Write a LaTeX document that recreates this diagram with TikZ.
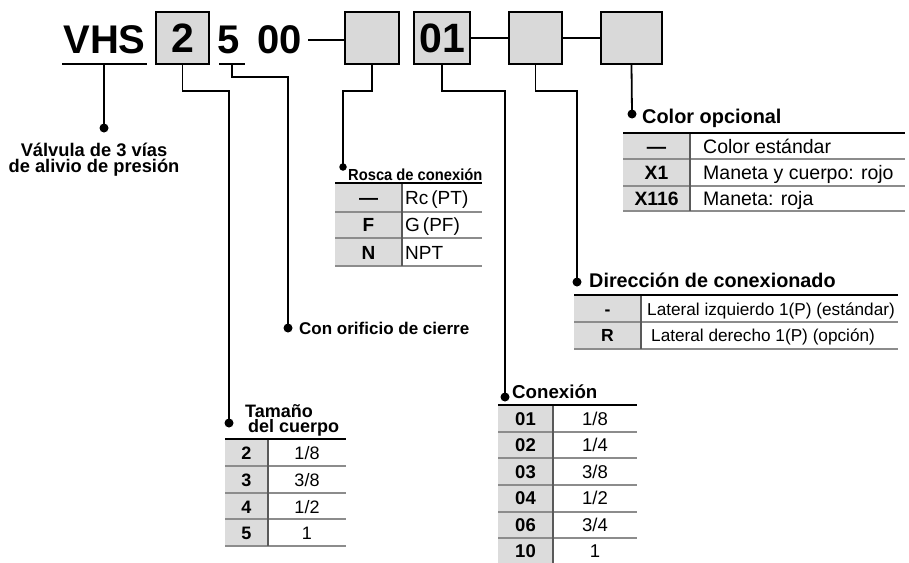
\documentclass[tikz,border=0pt]{standalone}
\usepackage{fontspec}
\usepackage{graphicx}
\setmainfont{Liberation Sans}
\newcommand\myfs[1]{\fontsize{#1}{#1}\selectfont}
\definecolor{boxgray}{HTML}{D9D9D9}
\definecolor{cellgray}{HTML}{DCDCDC}
\definecolor{rulegray}{HTML}{8C8C8C}
\begin{document}
\begin{tikzpicture}[x=1pt,y=-1pt,
  codebox/.style={draw,line width=2pt,fill=boxgray,minimum height=52pt,inner sep=0pt,font=\bfseries\myfs{41}},
  code/.style={anchor=base,inner sep=0pt,font=\bfseries\myfs{40}},
  conn/.style={line width=1.8pt},
  link/.style={line width=2.6pt},
  uline/.style={line width=1.8pt},
  dot/.style={circle,fill=black,inner sep=0pt,minimum size=9pt},
  sdot/.style={circle,fill=black,inner sep=0pt,minimum size=7.5pt},
  ttl/.style={anchor=base west,inner sep=0pt,font=\bfseries\myfs{#1}},
  toprule/.style={line width=2pt},
  rowrule/.style={line width=1.1pt,draw=rulegray},
  colrule/.style={line width=1.1pt,draw=black!65},
  ccode/.style={anchor=base,inner sep=0pt,font=\bfseries\myfs{#1}},
  ctext/.style={anchor=base west,inner sep=0pt,font=\myfs{#1}},
  cval/.style={anchor=base,inner sep=0pt,font=\myfs{#1}}
]
\useasboundingbox (0,0) rectangle (909,562);

% ---------- model code ----------
\node[code] (vhs) at (104.5,53) {VHS};
\node[codebox,minimum width=53pt] (b2) at (182.5,38) {2};
\node[code] (n5) at (229,53) {5};
\node[code,anchor=base west] (n00) at (257,53) {00};
\node[codebox,minimum width=54pt] (b3) at (372,38) {};
\node[codebox,minimum width=56pt] (b01) at (442,38) {01};
\node[codebox,minimum width=53pt] (b5) at (535.5,38) {};
\node[codebox,minimum width=61pt] (b6) at (631.5,38) {};

\coordinate (l00) at (308,40);
\draw[link] (l00) -- (l00 -| b3.west);
\draw[link] (b01.east) -- (b5.west);
\draw[link] (b5.east) -- (b6.west);

\coordinate (uV) at (104,64);
\draw[uline] (62,64) -- (147,64);
\coordinate (u5) at (232,64);
\draw[uline] (219,64) -- (245,64);

% ---------- dots ----------
\node[dot] (dV) at (104,128) {};
\node[dot] (dT) at (229,423) {};
\node[dot] (dC) at (288,328) {};
\node[sdot] (dR) at (343,167) {};
\node[dot] (dX) at (505,397) {};
\node[dot] (dD) at (577,282) {};
\node[dot] (dO) at (632,114) {};

% ---------- connectors ----------
\draw[conn] (uV) -- (dV.center);
\draw[conn] (b2.south) -- ++(0,26) -| (dT.center);
\draw[conn] (u5) -- ++(0,13) -| (dC.center);
\draw[conn] (b3.south) -- ++(0,26) -| (dR.center);
\draw[conn] (b01.south) -- ++(0,26) -| (dX.center);
\draw[conn] (b5.south) -- ++(0,26) -| (dD.center);
\draw[conn] (b6.south) -- (dO.center);

% ---------- titles ----------
\node[anchor=base,inner sep=0pt,align=center,font=\bfseries\myfs{18.3}] (tV) at (94,172.7)
  {V\'alvula de 3 v\'ias\\[-1.6pt]de alivio de presi\'on};
\node[anchor=base west,inner sep=0pt,align=left,font=\bfseries\myfs{18}] (tT) at (245,432.5)
  {Tama\~no\\[-3pt]\hspace*{3pt}del cuerpo};
\node[ttl=17] (tC) at (299,334) {Con orificio de cierre};
\node[ttl=16] (tR) at (348,180.7) {\scalebox{0.92}[1]{Rosca de conexi\'on}};
\node[ttl=18.7] (tX) at (512,398) {Conexi\'on};
\node[ttl=19.8] (tD) at (589,287) {Direcci\'on de conexionado};
\node[ttl=19.9] (tO) at (642,123.3) {Color opcional};

% ---------- table: Color opcional ----------
\fill[cellgray] (623,133) rectangle (690,211);
\draw[rowrule] (623,159) -- (905,159);
\draw[rowrule] (623,186) -- (905,186);
\draw[rowrule] (623,211) -- (905,211);
\draw[colrule] (690,133) -- (690,211);
\draw[toprule] (623,133) -- (905,133);
\node[ccode=19.3] (o1) at (656.5,153.5) {---};
\node[ccode=19.3] (o2) at (656.5,179.5) {X1};
\node[ccode=19.3] (o3) at (656.5,205.5) {X116};
\node[ctext=19.5] (o1t) at (703,153.5) {Color est\'andar};
\node[ctext=19.5] (o2t) at (703,179.5) {Maneta y cuerpo: rojo};
\node[ctext=19.5] (o3t) at (703,205.5) {Maneta: roja};

% ---------- table: Direccion ----------
\fill[cellgray] (574,295) rectangle (641,349);
\draw[rowrule] (574,322) -- (898,322);
\draw[rowrule] (574,349) -- (898,349);
\draw[colrule] (641,295) -- (641,349);
\draw[toprule] (574,295) -- (898,295);
\node[ccode=17.5] (d1) at (607.5,315) {-};
\node[ccode=17.5] (d2) at (607.5,341.7) {R};
\node[ctext=17.2] (d1t) at (647,315) {Lateral izquierdo 1(P) (est\'andar)};
\node[ctext=17.2] (d2t) at (651,341.7) {Lateral derecho 1(P) (opci\'on)};

% ---------- table: Rosca ----------
\fill[cellgray] (335,183) rectangle (402,266);
\draw[rowrule] (335,212) -- (482,212);
\draw[rowrule] (335,238) -- (482,238);
\draw[rowrule] (335,266) -- (482,266);
\draw[colrule] (402,183) -- (402,266);
\draw[toprule] (335,183) -- (482,183);
\node[ccode=19] (r1) at (368.5,204.5) {---};
\node[ccode=19] (r2) at (368.5,231.8) {F};
\node[ccode=19] (r3) at (368.5,259) {N};
\node[ctext=19] (r1t) at (405,204.5) {Rc\hspace{3pt}(PT)};
\node[ctext=19] (r2t) at (405,231.8) {G\hspace{3pt}(PF)};
\node[ctext=19] (r3t) at (405,259) {NPT};

% ---------- table: Tamano ----------
\fill[cellgray] (225,439) rectangle (268,546);
\draw[rowrule] (225,466) -- (346,466);
\draw[rowrule] (225,493) -- (346,493);
\draw[rowrule] (225,519) -- (346,519);
\draw[rowrule] (225,546) -- (346,546);
\draw[colrule] (268,439) -- (268,546);
\draw[toprule] (225,439) -- (346,439);
\node[ccode=18] (t1) at (246.5,459.5) {2};
\node[ccode=18] (t2) at (246.5,486.5) {3};
\node[ccode=18] (t3) at (246.5,513) {4};
\node[ccode=18] (t4) at (246.5,539.5) {5};
\node[cval=18] (t1v) at (307,459.5) {1/8};
\node[cval=18] (t2v) at (307,486.5) {3/8};
\node[cval=18] (t3v) at (307,513) {1/2};
\node[cval=18] (t4v) at (307,539.5) {1};

% ---------- table: Conexion ----------
\fill[cellgray] (498,405) rectangle (553,566);
\draw[rowrule] (498,432) -- (637,432);
\draw[rowrule] (498,458) -- (637,458);
\draw[rowrule] (498,485) -- (637,485);
\draw[rowrule] (498,512) -- (637,512);
\draw[rowrule] (498,538) -- (637,538);
\draw[colrule] (553,405) -- (553,566);
\draw[toprule] (498,405) -- (637,405);
\node[ccode=18.5] (x1) at (525.5,425) {01};
\node[ccode=18.5] (x2) at (525.5,451.5) {02};
\node[ccode=18.5] (x3) at (525.5,478) {03};
\node[ccode=18.5] (x4) at (525.5,504.5) {04};
\node[ccode=18.5] (x5) at (525.5,531) {06};
\node[ccode=18.5] (x6) at (525.5,557.5) {10};
\node[cval=18.5] (x1v) at (595,425) {1/8};
\node[cval=18.5] (x2v) at (595,451.5) {1/4};
\node[cval=18.5] (x3v) at (595,478) {3/8};
\node[cval=18.5] (x4v) at (595,504.5) {1/2};
\node[cval=18.5] (x5v) at (595,531) {3/4};
\node[cval=18.5] (x6v) at (595,557.5) {1};
\end{tikzpicture}
\end{document}
